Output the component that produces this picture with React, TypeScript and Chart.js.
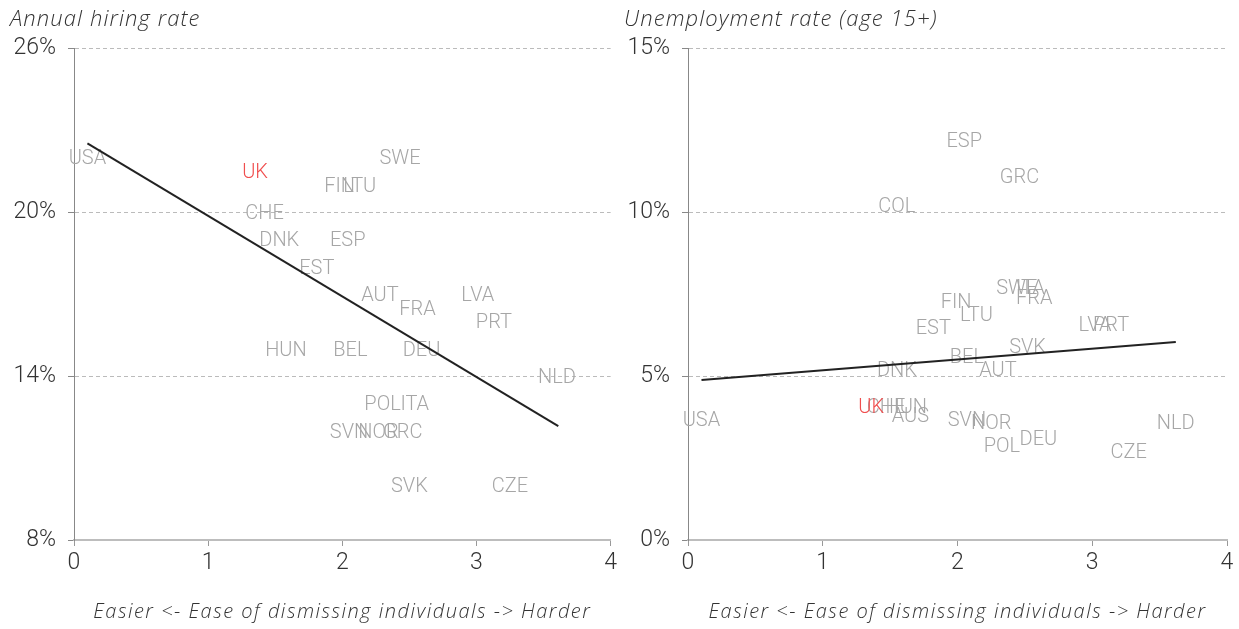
import { useEffect, useRef } from 'react';
import { Chart, registerables } from 'chart.js';

Chart.register(...registerables);

// ---------- Data ----------
const leftTitle = 'Annual hiring rate';
const rightTitle = 'Unemployment rate (age 15+)';
const xAxisTitle = 'Easier <- Ease of dismissing individuals -> Harder';

const xTicks = [0, 1, 2, 3, 4];
const leftYTicks = [8, 14, 20, 26];
const rightYTicks = [0, 5, 10, 15];

const leftCountries = ['USA', 'SWE', 'FIN', 'LTU', 'CHE', 'DNK', 'ESP', 'EST', 'AUT', 'FRA', 'LVA', 'PRT', 'HUN', 'BEL', 'DEU', 'NLD', 'POL', 'ITA', 'SVN', 'NOR', 'GRC', 'SVK', 'CZE', 'UK'];
const leftX = [0.1, 2.43, 1.98, 2.13, 1.42, 1.53, 2.04, 1.81, 2.28, 2.56, 3.01, 3.13, 1.58, 2.06, 2.59, 3.6, 2.3, 2.54, 2.05, 2.27, 2.45, 2.5, 3.25, 1.35];
const leftY = [22, 22, 21, 21, 20, 19, 19, 18, 17, 16.5, 17, 16, 15, 15, 15, 14, 13, 13, 12, 12, 12, 10, 10, 21.5];
const leftTrendX = [0.1, 3.61];
const leftTrendY = [22.51, 12.17];

const rightCountries = ['ESP', 'GRC', 'COL', 'SWE', 'ITA', 'FRA', 'FIN', 'LTU', 'EST', 'LVA', 'PRT', 'SVK', 'BEL', 'DNK', 'AUT', 'CHE', 'HUN', 'AUS', 'USA', 'SVN', 'NOR', 'NLD', 'POL', 'DEU', 'CZE', 'UK'];
const rightX = [2.05, 2.46, 1.55, 2.44, 2.54, 2.57, 1.99, 2.14, 1.82, 3.02, 3.14, 2.52, 2.07, 1.55, 2.3, 1.47, 1.62, 1.65, 0.1, 2.07, 2.25, 3.62, 2.33, 2.6, 3.27, 1.36];
const rightY = [12.2, 11.1, 10.2, 7.7, 7.7, 7.4, 7.3, 6.9, 6.5, 6.6, 6.6, 5.9, 5.6, 5.2, 5.2, 4.1, 4.1, 3.8, 3.7, 3.7, 3.6, 3.6, 2.9, 3.1, 2.7, 4.1];
const rightTrendX = [0.1, 3.62];
const rightTrendY = [4.88, 6.04];

const highlight = 'UK';

// ---------- Styles ----------
const labelGrey = '#a6a6a6';
const highlightRed = '#f04e4e';
const textDark = '#333333';

function makeChart(
  canvas: HTMLCanvasElement,
  title: string,
  names: string[],
  xs: number[],
  ys: number[],
  trendX: number[],
  trendY: number[],
  yTicks: number[],
  padRight: number
) {
  const labelPlugin = {
    id: 'countryLabels',
    beforeDatasetsDraw(chart: any) {
      const meta = chart.getDatasetMeta(0);
      const ctx = chart.ctx;
      ctx.save();
      ctx.font = '300 20px Roboto';
      ctx.textAlign = 'center';
      ctx.textBaseline = 'alphabetic';
      const order = names.map((_, i) => i).sort((a, b) => (names[a] === highlight ? 1 : 0) - (names[b] === highlight ? 1 : 0));
      order.forEach((i) => {
        const el = meta.data[i];
        if (!el) return;
        ctx.fillStyle = names[i] === highlight ? highlightRed : labelGrey;
        ctx.fillText(names[i], el.x, el.y + 7);
      });
      ctx.restore();
    },
  };
  const titlePlugin = {
    id: 'titles',
    afterDraw(chart: any) {
      const ctx = chart.ctx;
      const area = chart.chartArea;
      ctx.save();
      ctx.fillStyle = textDark;
      ctx.textBaseline = 'middle';
      ctx.font = 'italic 300 22px "Open Sans"';
      (ctx as any).letterSpacing = '1.1px';
      ctx.textAlign = 'left';
      ctx.fillText(title, area.left - 64, 20);
      ctx.font = 'italic 300 20px "Open Sans"';
      (ctx as any).letterSpacing = '1.5px';
      ctx.textAlign = 'center';
      ctx.fillText(xAxisTitle, (area.left + area.right) / 2, 612);
      ctx.restore();
    },
  };

  return new Chart(canvas, {
    type: 'scatter',
    data: {
      datasets: [
        {
          data: xs.map((x, i) => ({ x, y: ys[i] })),
          pointRadius: 0,
          pointHoverRadius: 0,
          showLine: false,
        },
        {
          data: trendX.map((x, i) => ({ x, y: trendY[i] })),
          showLine: true,
          pointRadius: 0,
          borderColor: '#222222',
          borderWidth: 2,
          fill: false,
        },
      ],
    },
    options: {
      animation: false,
      responsive: false,
      events: [],
      layout: { padding: { top: 48, right: padRight, bottom: 0, left: 0 } },
      plugins: { legend: { display: false }, tooltip: { enabled: false }, title: { display: false } },
      scales: {
        x: {
          type: 'linear',
          min: xTicks[0],
          max: xTicks[xTicks.length - 1],
          afterBuildTicks: (scale: any) => {
            scale.ticks = xTicks.map((v) => ({ value: v }));
          },
          afterFit: (scale: any) => {
            scale.height = 89;
          },
          grid: {
            display: true,
            drawOnChartArea: false,
            drawTicks: true,
            tickLength: 6,
            color: '#999999',
            tickColor: '#999999',
          },
          border: { display: true, color: '#bdbdbd', width: 2 },
          ticks: {
            color: textDark,
            font: { family: 'Roboto', size: 23, weight: '300' },
            padding: 3,
            maxRotation: 0,
            autoSkip: false,
          },
          title: { display: false },
        },
        y: {
          type: 'linear',
          min: yTicks[0],
          max: yTicks[yTicks.length - 1],
          afterBuildTicks: (scale: any) => {
            scale.ticks = yTicks.map((v) => ({ value: v }));
          },
          afterFit: (scale: any) => {
            scale.width = 74;
          },
          grid: {
            color: '#bbbbbb',
            lineWidth: 1,
            drawTicks: true,
            tickLength: 6,
            tickColor: '#888888',
            tickBorderDash: [],
          },
          border: { display: true, color: '#888888', width: 1, dash: [4, 3] },
          ticks: {
            color: textDark,
            font: { family: 'Roboto', size: 23, weight: '300' },
            padding: 12,
            autoSkip: false,
            callback: (v: any) => `${v}%`,
          },
        },
      },
    },
    plugins: [labelPlugin, titlePlugin],
  } as any);
}

export default function App() {
  const leftRef = useRef<HTMLCanvasElement>(null);
  const rightRef = useRef<HTMLCanvasElement>(null);

  useEffect(() => {
    document.body.style.margin = '0';
    document.body.style.background = '#ffffff';
    const c1 = makeChart(leftRef.current!, leftTitle, leftCountries, leftX, leftY, leftTrendX, leftTrendY, leftYTicks, 8);
    const c2 = makeChart(rightRef.current!, rightTitle, rightCountries, rightX, rightY, rightTrendX, rightTrendY, rightYTicks, 12);
    return () => {
      c1.destroy();
      c2.destroy();
    };
  }, []);

  return (
    <div style={{ position: 'relative', width: 1239, height: 629, background: '#fff', overflow: 'hidden' }}>
      <canvas ref={leftRef} width={620} height={629} style={{ position: 'absolute', left: 0, top: 0, width: 620, height: 629 }} />
      <canvas ref={rightRef} width={625} height={629} style={{ position: 'absolute', left: 614, top: 0, width: 625, height: 629 }} />
    </div>
  );
}
